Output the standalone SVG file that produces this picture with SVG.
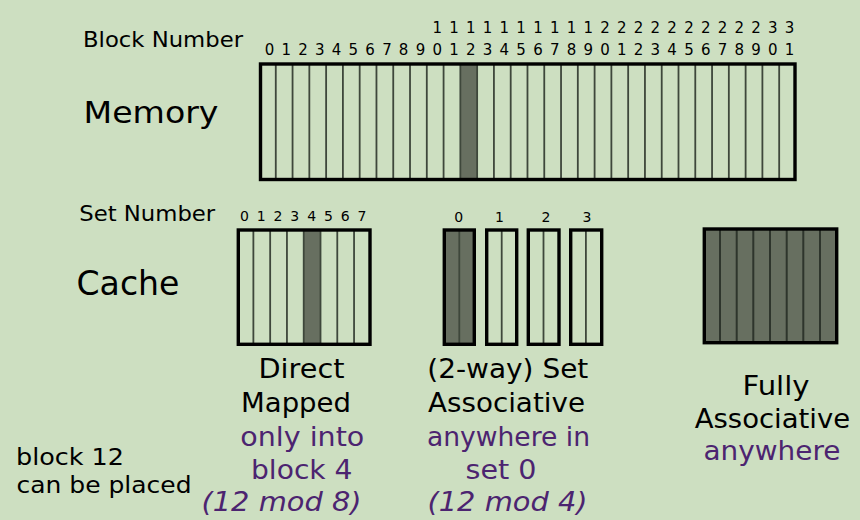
<svg xmlns="http://www.w3.org/2000/svg" width="860" height="520" viewBox="0 0 860 520">
<style>
text{font-family:"DejaVu Sans","Verdana","Liberation Sans",sans-serif;fill:#000}
.num{font-size:15px;text-anchor:middle}
.snum{font-size:14px;text-anchor:middle}
.lbl{font-size:26px}
.pur{fill:#4c2470}
.it{font-style:italic}
.hi{fill:#676f60}
.grid{stroke:#3e473b;stroke-width:1.8;fill:none}
.gridd{stroke:#2e352c;stroke-width:2;fill:none}
.border{fill:none;stroke:#000;stroke-width:3.4}
</style>
<rect x="0" y="0" width="860" height="520" fill="#cddfc1"/>
<g id="connectors"/>

<g id="memory">
<rect class="hi" x="460.4" y="64" width="16.8" height="115.5"/>
<path class="grid" d="M275.78 64V179.5M292.56 64V179.5M309.34 64V179.5M326.12 64V179.5M342.9 64V179.5M359.68 64V179.5M376.46 64V179.5M393.24 64V179.5M410.02 64V179.5M426.8 64V179.5M443.58 64V179.5M460.36 64V179.5M477.14 64V179.5M493.92 64V179.5M510.7 64V179.5M527.48 64V179.5M544.26 64V179.5M561.04 64V179.5M577.82 64V179.5M594.6 64V179.5M611.38 64V179.5M628.16 64V179.5M644.94 64V179.5M661.72 64V179.5M678.5 64V179.5M695.28 64V179.5M712.06 64V179.5M728.84 64V179.5M745.62 64V179.5M762.4 64V179.5M779.18 64V179.5"/>
<rect class="border" x="260.5" y="64" width="534.5" height="115.5"/>
<text x="83" y="47.3" font-size="20.5" textLength="160" lengthAdjust="spacingAndGlyphs">Block Number</text>
<text x="83.5" y="123.3" font-size="30" textLength="135" lengthAdjust="spacingAndGlyphs">Memory</text>
<g class="num">
<text x="269.4" y="55">0</text><text x="286.2" y="55">1</text><text x="303" y="55">2</text><text x="319.7" y="55">3</text><text x="336.5" y="55">4</text><text x="353.3" y="55">5</text><text x="370.1" y="55">6</text><text x="386.9" y="55">7</text><text x="403.6" y="55">8</text><text x="420.4" y="55">9</text>
<text x="437.2" y="32.7">1</text><text x="437.2" y="55">0</text>
<text x="454" y="32.7">1</text><text x="454" y="55">1</text>
<text x="470.8" y="32.7">1</text><text x="470.8" y="55">2</text>
<text x="487.5" y="32.7">1</text><text x="487.5" y="55">3</text>
<text x="504.3" y="32.7">1</text><text x="504.3" y="55">4</text>
<text x="521.1" y="32.7">1</text><text x="521.1" y="55">5</text>
<text x="537.9" y="32.7">1</text><text x="537.9" y="55">6</text>
<text x="554.7" y="32.7">1</text><text x="554.7" y="55">7</text>
<text x="571.4" y="32.7">1</text><text x="571.4" y="55">8</text>
<text x="588.2" y="32.7">1</text><text x="588.2" y="55">9</text>
<text x="605" y="32.7">2</text><text x="605" y="55">0</text>
<text x="621.8" y="32.7">2</text><text x="621.8" y="55">1</text>
<text x="638.6" y="32.7">2</text><text x="638.6" y="55">2</text>
<text x="655.3" y="32.7">2</text><text x="655.3" y="55">3</text>
<text x="672.1" y="32.7">2</text><text x="672.1" y="55">4</text>
<text x="688.9" y="32.7">2</text><text x="688.9" y="55">5</text>
<text x="705.7" y="32.7">2</text><text x="705.7" y="55">6</text>
<text x="722.4" y="32.7">2</text><text x="722.4" y="55">7</text>
<text x="739.2" y="32.7">2</text><text x="739.2" y="55">8</text>
<text x="756" y="32.7">2</text><text x="756" y="55">9</text>
<text x="772.8" y="32.7">3</text><text x="772.8" y="55">0</text>
<text x="789.6" y="32.7">3</text><text x="789.6" y="55">1</text>
</g>
</g>

<g id="cache-labels">
<text x="79.2" y="221" font-size="22" textLength="136" lengthAdjust="spacingAndGlyphs">Set Number</text>
<text x="76.5" y="294.5" font-size="34" textLength="103" lengthAdjust="spacingAndGlyphs">Cache</text>
</g>

<g id="cache-direct">
<rect class="hi" x="303.7" y="230" width="16.8" height="114.3"/>
<path class="grid" d="M253.38 230V344.3M270.16 230V344.3M286.94 230V344.3M303.72 230V344.3M320.5 230V344.3M337.28 230V344.3M354.06 230V344.3"/>
<rect class="border" x="238.3" y="230" width="131.7" height="114.3"/>
<g class="snum">
<text x="244.5" y="220.7">0</text><text x="261.3" y="220.7">1</text><text x="278" y="220.7">2</text><text x="294.8" y="220.7">3</text><text x="311.6" y="220.7">4</text><text x="328.4" y="220.7">5</text><text x="345.2" y="220.7">6</text><text x="362" y="220.7">7</text>
</g>
<text class="lbl" x="258.5" y="377.5" textLength="86" lengthAdjust="spacingAndGlyphs">Direct</text>
<text class="lbl" x="241" y="411.5" textLength="110" lengthAdjust="spacingAndGlyphs">Mapped</text>
<text class="lbl pur" x="240.3" y="445.5" textLength="124" lengthAdjust="spacingAndGlyphs">only into</text>
<text class="lbl pur" x="251" y="479" textLength="101.5" lengthAdjust="spacingAndGlyphs">block 4</text>
<text class="lbl pur it" x="201.5" y="511" textLength="160" lengthAdjust="spacingAndGlyphs">(12 mod 8)</text>
</g>

<g id="cache-set0">
<rect class="hi" x="444.3" y="230" width="30" height="114.3"/>
<path class="grid" d="M459.3 230V344.3"/>
<rect class="border" x="444.3" y="230" width="30" height="114.3"/>
<text class="snum" x="458.8" y="221.5">0</text>
</g>
<g id="cache-set1">
<path class="grid" d="M501.7 230V344.3"/>
<rect class="border" x="486.7" y="230" width="30" height="114.3"/>
<text class="snum" x="499.5" y="221.5">1</text>
</g>
<g id="cache-set2">
<path class="grid" d="M543.5 230V344.3"/>
<rect class="border" x="528.3" y="230" width="30.7" height="114.3"/>
<text class="snum" x="546" y="221.5">2</text>
</g>
<g id="cache-set3">
<path class="grid" d="M585.9 230V344.3"/>
<rect class="border" x="570.7" y="230" width="31" height="114.3"/>
<text class="snum" x="587" y="221.5">3</text>
</g>
<g id="set-assoc-labels">
<text class="lbl" x="427.3" y="377.5" textLength="161" lengthAdjust="spacingAndGlyphs">(2-way) Set</text>
<text class="lbl" x="428" y="411.5" textLength="157" lengthAdjust="spacingAndGlyphs">Associative</text>
<text class="lbl pur" x="427" y="445.5" textLength="163" lengthAdjust="spacingAndGlyphs">anywhere in</text>
<text class="lbl pur" x="465.5" y="479" textLength="71" lengthAdjust="spacingAndGlyphs">set 0</text>
<text class="lbl pur it" x="427.5" y="511" textLength="160" lengthAdjust="spacingAndGlyphs">(12 mod 4)</text>
</g>

<g id="cache-full">
<rect class="hi" x="704.3" y="229" width="132.4" height="113.7"/>
<path class="gridd" d="M720 229V342.7M736.7 229V342.7M753.3 229V342.7M770 229V342.7M786.7 229V342.7M803.3 229V342.7M820 229V342.7"/>
<rect class="border" x="704.3" y="229" width="132.4" height="113.7"/>
<text class="lbl" x="742.5" y="395" textLength="67" lengthAdjust="spacingAndGlyphs">Fully</text>
<text class="lbl" x="694.7" y="428.3" textLength="155.5" lengthAdjust="spacingAndGlyphs">Associative</text>
<text class="lbl pur" x="703.5" y="460" textLength="137" lengthAdjust="spacingAndGlyphs">anywhere</text>
</g>

<g id="note">
<text x="16" y="465" font-size="23" textLength="108" lengthAdjust="spacingAndGlyphs">block 12</text>
<text x="16.5" y="493.3" font-size="23" textLength="175" lengthAdjust="spacingAndGlyphs">can be placed</text>
</g>
</svg>
